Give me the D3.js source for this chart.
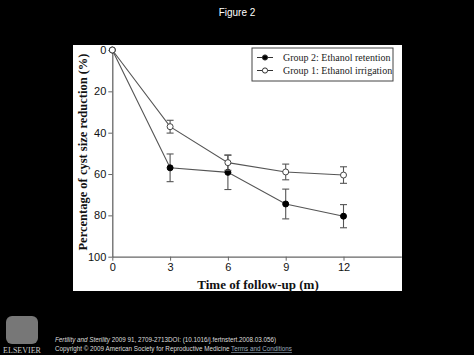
<!DOCTYPE html>
<html><head><meta charset="utf-8">
<script src="https://cdn.jsdelivr.net/npm/d3@7"></script>
<style>body{margin:0;background:#000;}svg{display:block;}</style>
</head><body>
<script>
const months = [0, 3, 6, 9, 12];
const retentionMean = [0, 57, 59.2, 74.5, 80.4];
const retentionErr = [0, 6.7, 8.3, 7.2, 5.6];
const irrigationMean = [0, 37.1, 54.5, 59.0, 60.5];
const irrigationErr = [0, 3.1, 3.7, 3.8, 4.0];
const xTicks = [0, 3, 6, 9, 12];
const yTicks = [0, 20, 40, 60, 80, 100];
const seriesNames = ["Group 2: Ethanol retention", "Group 1: Ethanol irrigation"];

const W = 474, H = 355;
const svg = d3.select("body").append("svg").attr("width", W).attr("height", H);
svg.append("rect").attr("width", W).attr("height", H).attr("fill", "#000");

svg.append("text").attr("x", 237).attr("y", 16).attr("text-anchor", "middle")
  .attr("fill", "#fff").attr("font-family", "Arial, Liberation Sans, sans-serif").attr("font-size", 10)
  .text("Figure 2");

// white panel
svg.append("rect").attr("x", 73).attr("y", 45).attr("width", 329).attr("height", 246).attr("fill", "#fff");

const x = d3.scaleLinear().domain([0, 15]).range([112.3, 401.3]);
const y = d3.scaleLinear().domain([0, 100]).range([50, 256.7]);

const axCol = "#666";
const gx = svg.append("g").attr("transform", `translate(0,${y(100)})`)
  .call(d3.axisBottom(x).tickValues(xTicks).tickSize(4).tickPadding(3).tickSizeOuter(0));
const gy = svg.append("g").attr("transform", `translate(${x(0)},0)`)
  .call(d3.axisLeft(y).tickValues(yTicks).tickSize(4).tickPadding(2).tickSizeOuter(0));
[gx, gy].forEach(g => {
  g.select(".domain").attr("stroke", axCol).attr("stroke-width", 1.3);
  g.selectAll(".tick line").attr("stroke", axCol).attr("stroke-width", 1);
  g.selectAll(".tick text").attr("fill", "#111").attr("font-family", "Arial, Liberation Sans, sans-serif").attr("font-size", 11);
});

svg.append("text").attr("x", 258).attr("y", 289).attr("text-anchor", "middle")
  .attr("font-family", "Liberation Serif, Times New Roman, serif").attr("font-weight", "bold").attr("font-size", 13)
  .attr("fill", "#111").text("Time of follow-up (m)");
svg.append("text").attr("transform", "translate(87,152) rotate(-90)").attr("text-anchor", "middle")
  .attr("font-family", "Liberation Serif, Times New Roman, serif").attr("font-weight", "bold").attr("font-size", 12.5)
  .attr("fill", "#111").text("Percentage of cyst size reduction (%)");

const lineCol = "#555";
function drawSeries(means, errs, filled) {
  const data = months.map((m, i) => ({m, v: means[i], e: errs[i]}));
  svg.append("path").datum(data)
    .attr("d", d3.line().x(d => x(d.m)).y(d => y(d.v)))
    .attr("fill", "none").attr("stroke", lineCol).attr("stroke-width", 1.1);
  const eb = svg.append("g").selectAll("g").data(data.filter(d => d.e > 0)).join("g")
    .attr("stroke", lineCol).attr("stroke-width", 1.1);
  eb.append("line").attr("x1", d => x(d.m)).attr("x2", d => x(d.m))
    .attr("y1", d => y(d.v - d.e)).attr("y2", d => y(d.v + d.e));
  eb.append("line").attr("x1", d => x(d.m) - 3.5).attr("x2", d => x(d.m) + 3.5)
    .attr("y1", d => y(d.v - d.e)).attr("y2", d => y(d.v - d.e));
  eb.append("line").attr("x1", d => x(d.m) - 3.5).attr("x2", d => x(d.m) + 3.5)
    .attr("y1", d => y(d.v + d.e)).attr("y2", d => y(d.v + d.e));
  svg.append("g").selectAll("circle").data(data).join("circle")
    .attr("cx", d => x(d.m)).attr("cy", d => y(d.v)).attr("r", 3)
    .attr("fill", filled ? "#000" : "#fff").attr("stroke", filled ? "#000" : "#444").attr("stroke-width", 1);
}
drawSeries(retentionMean, retentionErr, true);
drawSeries(irrigationMean, irrigationErr, false);

// legend
const lg = svg.append("g");
lg.append("rect").attr("x", 252).attr("y", 48).attr("width", 141).attr("height", 33)
  .attr("fill", "#fff").attr("stroke", "#444").attr("stroke-width", 1);
seriesNames.forEach((name, i) => {
  const yy = 57.5 + i * 13;
  lg.append("line").attr("x1", 257).attr("x2", 273).attr("y1", yy).attr("y2", yy)
    .attr("stroke", "#333").attr("stroke-width", 1);
  lg.append("circle").attr("cx", 265).attr("cy", yy).attr("r", 2.6)
    .attr("fill", i === 0 ? "#000" : "#fff").attr("stroke", "#333").attr("stroke-width", 1);
  lg.append("text").attr("x", 283).attr("y", yy + 3.5)
    .attr("font-family", "Liberation Serif, Times New Roman, serif").attr("font-size", 10)
    .attr("fill", "#222").text(name);
});

// footer
const logo = svg.append("g");
logo.append("rect").attr("x", 6).attr("y", 316).attr("width", 32).attr("height", 28).attr("fill", "#777").attr("rx", 6);
logo.append("text").attr("x", 22).attr("y", 353).attr("text-anchor", "middle")
  .attr("font-family", "Liberation Serif, serif").attr("font-size", 8).attr("fill", "#ccc").text("ELSEVIER");
const ft = svg.append("text").attr("x", 55).attr("y", 342)
  .attr("font-family", "Arial, Liberation Sans, sans-serif").attr("font-size", 6.3).attr("fill", "#ddd");
ft.append("tspan").attr("font-style", "italic").text("Fertility and Sterility ");
ft.append("tspan").text("2009 91, 2709-2713DOI: (10.1016/j.fertnstert.2008.03.056)");
const ft2 = svg.append("text").attr("x", 55).attr("y", 351)
  .attr("font-family", "Arial, Liberation Sans, sans-serif").attr("font-size", 6.3).attr("fill", "#ddd");
ft2.append("tspan").text("Copyright © 2009 American Society for Reproductive Medicine ");
ft2.append("tspan").attr("text-decoration", "underline").attr("fill", "#9ab").text("Terms and Conditions");
</script>
</body></html>
